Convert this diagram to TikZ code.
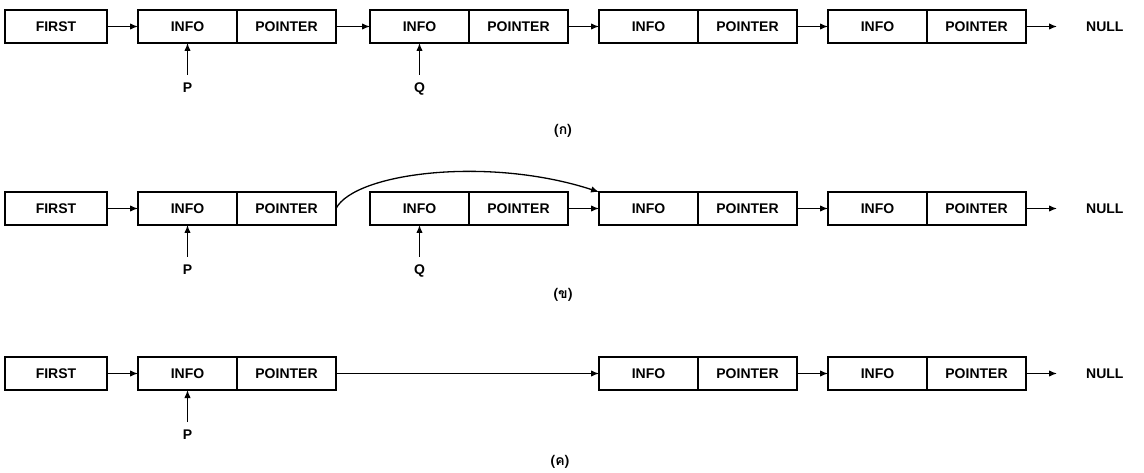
\documentclass[tikz,border=0pt]{standalone}
\usepackage{fontspec}
\setmainfont{Liberation Sans}
\newfontfamily\thaifont[Script=Thai]{Loma}
\usetikzlibrary{arrows.meta, positioning}

\begin{document}
\begin{tikzpicture}[
    x=1pt, y=1pt,
    node distance=31pt,
    every node/.style={font=\fontsize{14}{16}\selectfont\bfseries},
    cell/.style={rectangle, draw, line width=1.3pt, outer sep=0pt, inner sep=0pt, minimum width=99pt, minimum height=33pt},
    link/.style={-{Latex[length=8pt, width=6.5pt]}, line width=1.3pt},
    tag/.style={inner sep=0pt},
    caption/.style={font=\thaifont\fontsize{14}{16}\selectfont\bfseries}
]
\useasboundingbox (0,0) rectangle (1144,-473);

% (ก) list with P and Q
\node[cell, minimum width=102pt] (a0) at (56,-26.5) {FIRST};
\node[cell, right=of a0] (a1i) {INFO};
\node[cell, right=0pt of a1i] (a1p) {POINTER};
\node[cell, right=34pt of a1p] (a2i) {INFO};
\node[cell, right=0pt of a2i] (a2p) {POINTER};
\node[cell, right=of a2p] (a3i) {INFO};
\node[cell, right=0pt of a3i] (a3p) {POINTER};
\node[cell, right=of a3p] (a4i) {INFO};
\node[cell, right=0pt of a4i] (a4p) {POINTER};
\node[tag, right=60pt of a4p] (anull) {NULL};
\node[tag, below=40pt of a1i] (ap) {P};
\node[tag, below=40pt of a2i] (aq) {Q};
\node[caption] (ca) at (563,-131) {(ก)};

\draw[link] (a0) -- (a1i);
\draw[link] (a1p) -- (a2i);
\draw[link] (a2p) -- (a3i);
\draw[link] (a3p) -- (a4i);
\draw[link, shorten >=29pt] (a4p) -- (anull);
\draw[link, shorten <=8pt] (ap) -- (a1i);
\draw[link, shorten <=8pt] (aq) -- (a2i);

% (ข) P's pointer skips Q
\node[cell, minimum width=102pt] (b0) at (56,-208.5) {FIRST};
\node[cell, right=of b0] (b1i) {INFO};
\node[cell, right=0pt of b1i] (b1p) {POINTER};
\node[cell, right=34pt of b1p] (b2i) {INFO};
\node[cell, right=0pt of b2i] (b2p) {POINTER};
\node[cell, right=of b2p] (b3i) {INFO};
\node[cell, right=0pt of b3i] (b3p) {POINTER};
\node[cell, right=of b3p] (b4i) {INFO};
\node[cell, right=0pt of b4i] (b4p) {POINTER};
\node[tag, right=60pt of b4p] (bnull) {NULL};
\node[tag, below=40pt of b1i] (bp) {P};
\node[tag, below=40pt of b2i] (bq) {Q};
\node[caption] (cb) at (563,-295) {(ข)};

\draw[link] (b0) -- (b1i);
\draw[link] (b1p.east) .. controls +(19,36) and +(-110,36) .. (b3i.north west);
\draw[link] (b2p) -- (b3i);
\draw[link] (b3p) -- (b4i);
\draw[link, shorten >=29pt] (b4p) -- (bnull);
\draw[link, shorten <=8pt] (bp) -- (b1i);
\draw[link, shorten <=8pt] (bq) -- (b2i);

% (ค) Q removed
\node[cell, minimum width=102pt] (c0) at (56,-373.5) {FIRST};
\node[cell, right=of c0] (c1i) {INFO};
\node[cell, right=0pt of c1i] (c1p) {POINTER};
\node[cell, right=263pt of c1p] (c3i) {INFO};
\node[cell, right=0pt of c3i] (c3p) {POINTER};
\node[cell, right=of c3p] (c4i) {INFO};
\node[cell, right=0pt of c4i] (c4p) {POINTER};
\node[tag, right=60pt of c4p] (cnull) {NULL};
\node[tag, below=40pt of c1i] (cp) {P};
\node[caption] (cc) at (560,-462) {(ค)};

\draw[link] (c0) -- (c1i);
\draw[link] (c1p) -- (c3i);
\draw[link] (c3p) -- (c4i);
\draw[link, shorten >=29pt] (c4p) -- (cnull);
\draw[link, shorten <=8pt] (cp) -- (c1i);
\end{tikzpicture}
\end{document}
